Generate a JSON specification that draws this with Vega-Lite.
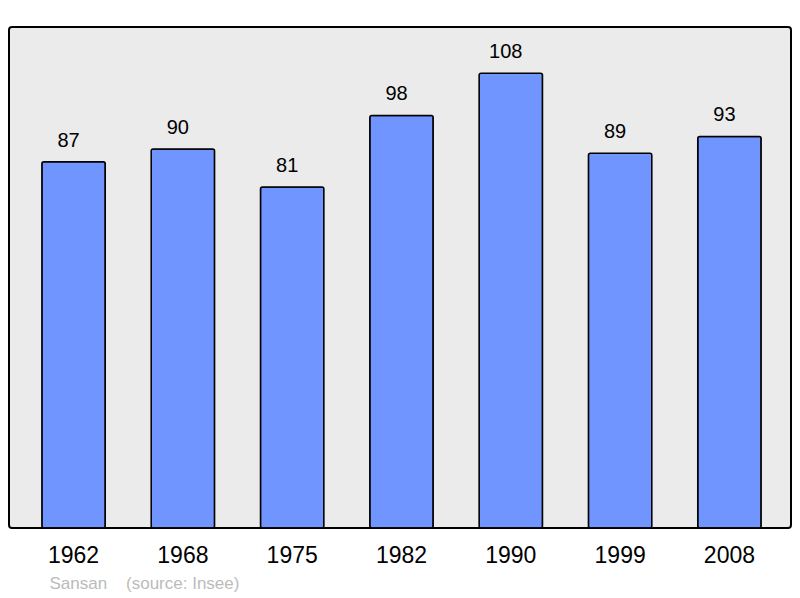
{
  "$schema": "https://vega.github.io/schema/vega-lite/v6.json",
  "description": "Population of Sansan by census year",
  "autosize": {"type": "none"},
  "width": 782,
  "height": 501,
  "padding": {"left": 9, "top": 27, "right": 9, "bottom": 70},
  "background": "white",
  "data": {
    "values": [
      {"year": "1962", "population": 87},
      {"year": "1968", "population": 90},
      {"year": "1975", "population": 81},
      {"year": "1982", "population": 98},
      {"year": "1990", "population": 108},
      {"year": "1999", "population": 89},
      {"year": "2008", "population": 93}
    ]
  },
  "encoding": {
    "x": {
      "field": "year",
      "type": "nominal",
      "sort": null,
      "scale": {"paddingInner": 0.42, "paddingOuter": 0.2, "range": [11, 774]},
      "axis": {
        "title": "Sansan\u00a0\u00a0\u00a0\u00a0(source: Insee)",
        "titleColor": "#bbbbbb",
        "titleFont": "Liberation Sans",
        "titleFontSize": 17,
        "titleFontWeight": "normal",
        "titleAnchor": "start",
        "titleAlign": "left",
        "titleBaseline": "middle",
        "titleX": 40,
        "titleY": 55,
        "labelAngle": 0,
        "labelFont": "Liberation Sans",
        "labelFontSize": 23,
        "labelColor": "black",
        "labelPadding": 16,
        "ticks": false,
        "domain": false,
        "grid": false
      }
    },
    "y": {
      "field": "population",
      "type": "quantitative",
      "scale": {"domain": [0, 119], "nice": false},
      "axis": null
    }
  },
  "layer": [
    {
      "mark": {
        "type": "bar",
        "color": "#7095ff",
        "stroke": "black",
        "strokeWidth": 1.5,
        "cornerRadius": 2
      }
    },
    {
      "mark": {
        "type": "text",
        "baseline": "alphabetic",
        "dx": -5,
        "dy": -15,
        "font": "Liberation Sans",
        "fontSize": 20,
        "color": "black"
      },
      "encoding": {
        "text": {"field": "population", "type": "quantitative"}
      }
    }
  ],
  "config": {
    "view": {
      "fill": "#ebebeb",
      "stroke": "black",
      "strokeWidth": 2,
      "cornerRadius": 3
    }
  }
}
